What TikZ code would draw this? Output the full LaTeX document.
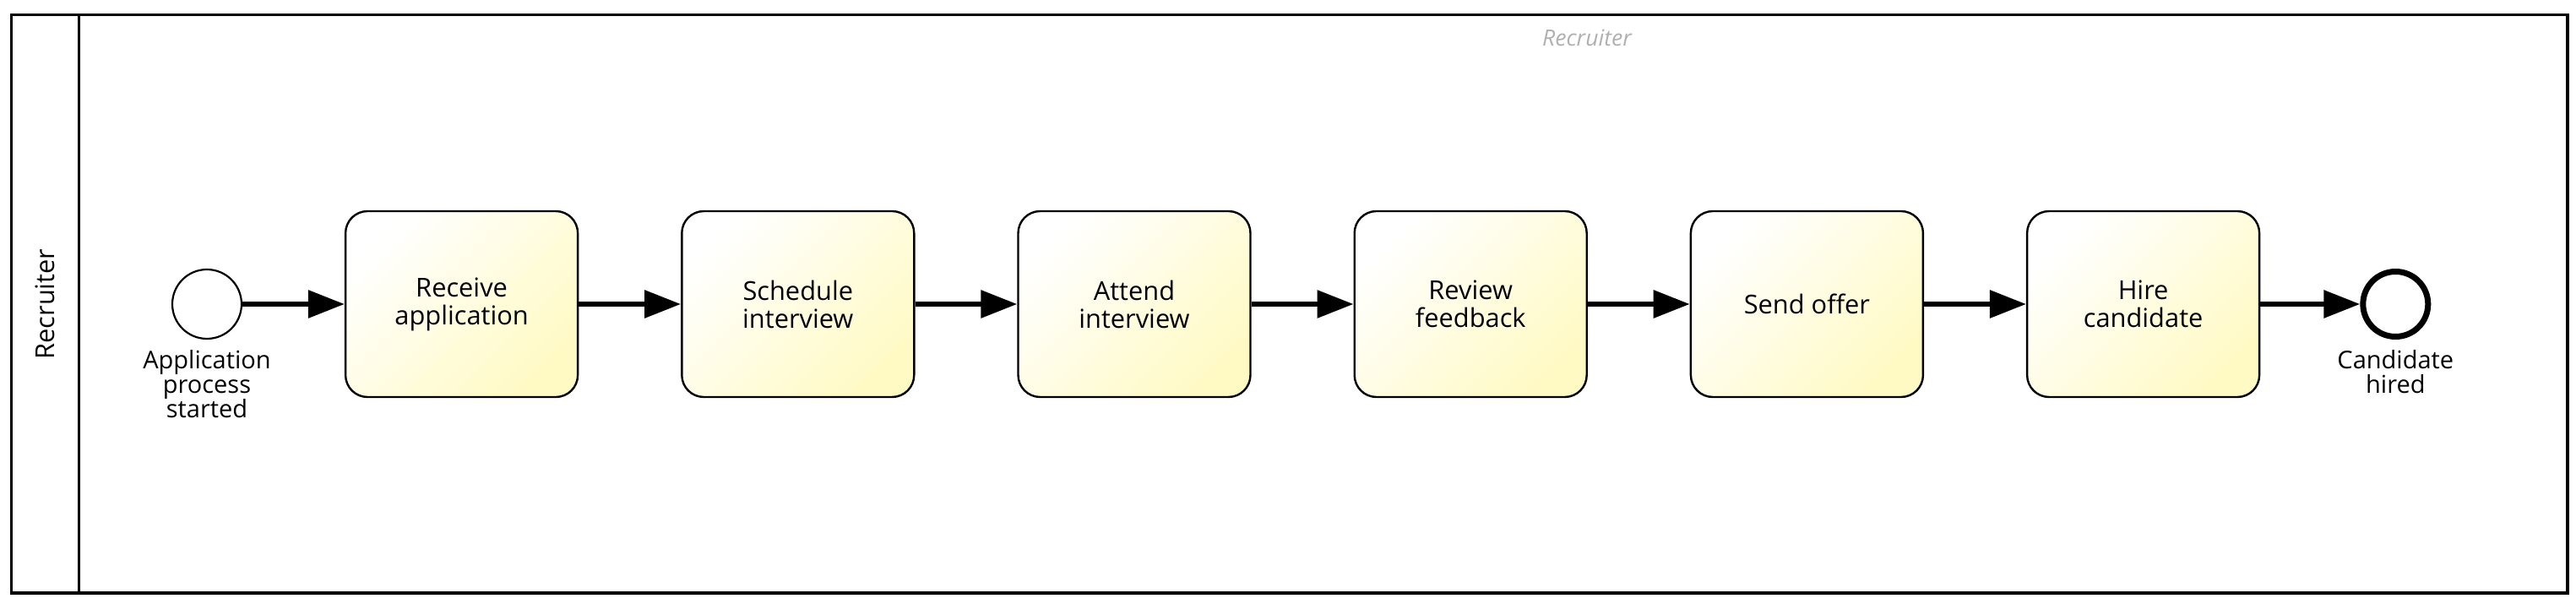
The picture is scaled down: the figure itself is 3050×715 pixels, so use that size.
\documentclass[tikz,border=0pt]{standalone}
\usepackage{fontspec}
\setmainfont{Open Sans}
\usetikzlibrary{positioning,arrows.meta}

\definecolor{taskyellow}{RGB}{255,250,196}
\definecolor{lanegray}{RGB}{176,176,176}

\begin{document}
\begin{tikzpicture}[
    x=0.25pt, y=-0.25pt,
    node distance = 30.2pt,
    pool/.style       = {line width=0.9pt},
    task/.style       = {rectangle, rounded corners=6.5pt, draw, line width=0.6pt,
                         minimum width=68.75pt, minimum height=55pt,
                         inner sep=2pt, align=center,
                         left color=white, right color=taskyellow,
                         shading angle=45,
                         font=\fontsize{7.7}{8.25}\selectfont},
    startev/.style    = {circle, draw, line width=0.55pt, fill=white,
                         minimum size=20.5pt, inner sep=0pt},
    endev/.style      = {circle, draw, line width=1.75pt, fill=white,
                         minimum size=19.25pt, inner sep=0pt},
    evlabel/.style    = {align=center, inner sep=0pt,
                         font=\fontsize{7.25}{7.25}\selectfont},
    flow/.style       = {-{Triangle[length=10.75pt, width=8pt]},
                         line width=1.5pt},
]
\useasboundingbox (0,0) rectangle (3050,715);

% ============================================================
%  POOL / LANE
% ============================================================
\draw[pool] (13.6,17.5) rectangle (3040,702);
\draw[pool] (93.4,17.5) -- (93.4,702);
\node[rotate=90, font=\fontsize{7.7}{8}\selectfont] (lanename) at (53.5,360) {Recruiter};
\node[text=lanegray, font=\fontsize{6.65}{7}\selectfont\itshape] (lanetitle) at (1879,45) {Recruiter};

% ============================================================
%  EVENTS AND TASKS
% ============================================================
% start event
\node[startev] (start) at (245,360) {};
\node[evlabel, below=3pt of start] (startlbl) {Application\\process\\started};

% tasks, left to right
\node[task, right=of start] (receive)  {Receive\\application};
\node[task, right=of receive] (schedule) {Schedule\\interview};
\node[task, right=of schedule] (attend)   {Attend\\interview};
\node[task, right=of attend] (review)   {Review\\feedback};
\node[task, right=of review] (offer)    {Send offer};
\node[task, right=of offer] (hire)     {Hire\\candidate};

% end event
\node[endev, right=29.5pt of hire] (finish) {};
\node[evlabel, below=3pt of finish] (finishlbl) {Candidate\\hired};

% ============================================================
%  SEQUENCE FLOWS
% ============================================================
\draw[flow] (start)    -- (receive);
\draw[flow] (receive)  -- (schedule);
\draw[flow] (schedule) -- (attend);
\draw[flow] (attend)   -- (review);
\draw[flow] (review)   -- (offer);
\draw[flow] (offer)    -- (hire);
\draw[flow] (hire)     -- (finish);

\end{tikzpicture}
\end{document}
